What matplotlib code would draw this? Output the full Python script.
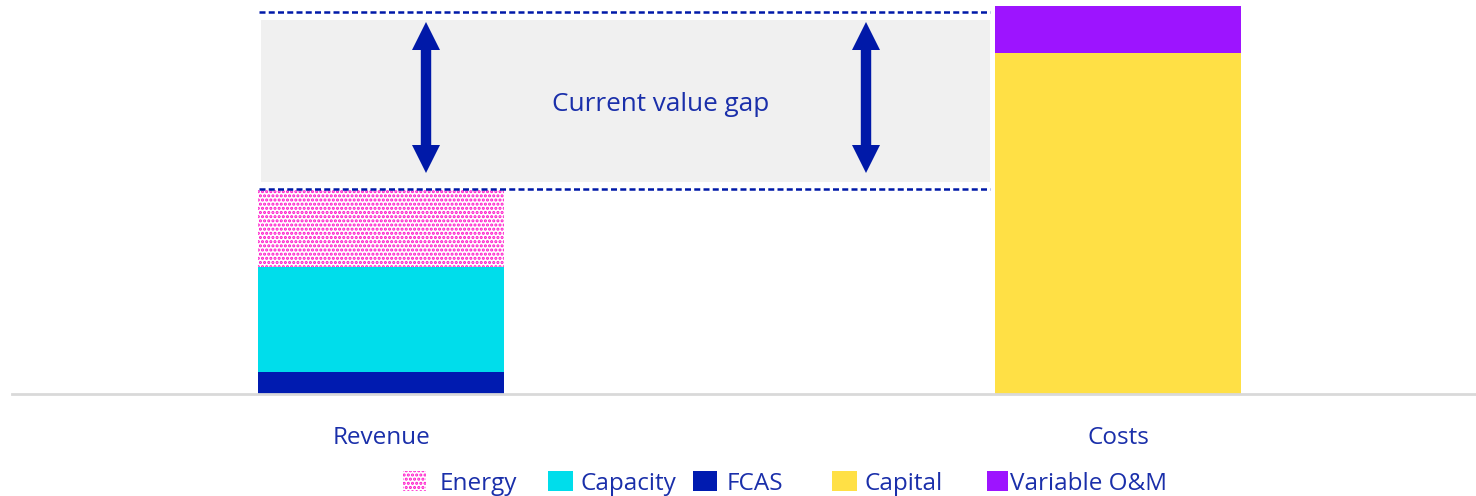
import matplotlib
matplotlib.use("Agg")
import matplotlib.pyplot as plt
from matplotlib.patches import Rectangle

plt.rcParams['font.family'] = ['Open Sans', 'DejaVu Sans']
plt.rcParams['hatch.linewidth'] = 1.5

# ---- data ----
categories = ["Revenue", "Costs"]
revenue_parts = ["FCAS", "Capacity", "Energy"]
revenue_values = [22, 105, 77]
cost_parts = ["Capital", "Variable O&M"]
cost_values = [341, 47]
legend_order = ["Energy", "Capacity", "FCAS", "Capital", "Variable O&M"]
gap_label = "Current value gap"
gap_top = 382

colors = {
    "FCAS": "#001BB0",
    "Capacity": "#00DDEB",
    "Energy": "#FF10C8",
    "Capital": "#FFE045",
    "Variable O&M": "#9D14FF",
}
text_color = "#1A2FAA"
line_color = "#0019A8"

W, H = 1476, 496
fig = plt.figure(figsize=(W / 100, H / 100), dpi=100)
ax = fig.add_axes([12 / W, (H - 394) / H, 1 - 12 / W, 394 / H])

width = 0.334
bottom = 0
for name, v in zip(revenue_parts, revenue_values):
    if name == "Energy":
        ax.bar(0, v, width, bottom=bottom, facecolor="white", edgecolor=colors[name],
               hatch="....", linewidth=0)
    else:
        ax.bar(0, v, width, bottom=bottom, color=colors[name], linewidth=0)
    bottom += v
rev_total = bottom
bottom = 0
for name, v in zip(cost_parts, cost_values):
    ax.bar(1, v, width, bottom=bottom, color=colors[name], linewidth=0)
    bottom += v

# gap annotation
x0, x1 = -0.165, 0.826
ax.add_patch(Rectangle((-0.163, rev_total + 8), 0.989, gap_top - rev_total - 16,
                       facecolor="#F0F0F0", edgecolor="none", zorder=0))
for yv in (rev_total + 1, gap_top):
    ax.plot([x0, x1], [yv, yv], color=line_color, lw=1.8, ls=(0, (2.4, 1.3)))
tip_top, tip_bot = gap_top - 10, rev_total + 17
head = 28  # px (1 data unit == 1 px vertically)
for xa in (0.061, 0.658):
    ax.plot([xa, xa], [tip_bot + head - 2, tip_top - head + 2], color=line_color,
            lw=7.5, solid_capstyle="butt")
    ax.plot([xa], [tip_top - head / 2], marker="^", ms=head * 0.72, color=line_color, mew=0)
    ax.plot([xa], [tip_bot + head / 2], marker="v", ms=head * 0.72, color=line_color, mew=0)
ax.text(0.379, (rev_total + gap_top) / 2 - 3, gap_label, ha="center", va="center",
        fontsize=18.8, color=text_color)

ax.set_xlim(-0.5007, 1.4858)
ax.set_ylim(0, 394)
ax.set_xticks([0, 1])
ax.set_xticklabels(categories, fontsize=17.5, color=text_color)
ax.tick_params(axis="x", length=0, pad=23)
ax.set_yticks([])
for s in ("top", "right", "left"):
    ax.spines[s].set_visible(False)
ax.spines["bottom"].set_color("#D9D9D9")
ax.spines["bottom"].set_linewidth(2)

# legend (manual placement to mimic spacing)
leg_pos = [(403, 426, 440), (548, 573, 580), (693, 717, 727), (832, 857, 864), (987, 1008, 1010)]
for name, (px0, px1, tx) in zip(legend_order, leg_pos):
    y0 = (H - 491) / H
    hgt = 20 / H
    if name == "Energy":
        r = Rectangle((px0 / W, y0), (px1 - px0) / W, hgt, transform=fig.transFigure,
                      facecolor="white", edgecolor=colors[name], hatch="....", linewidth=0)
    else:
        r = Rectangle((px0 / W, y0), (px1 - px0) / W, hgt, transform=fig.transFigure,
                      facecolor=colors[name], linewidth=0)
    fig.add_artist(r)
    fig.text(tx / W, (H - 490) / H, name, fontsize=17.5, color=text_color,
             ha="left", va="baseline")

fig.savefig("out.png", dpi=100)
